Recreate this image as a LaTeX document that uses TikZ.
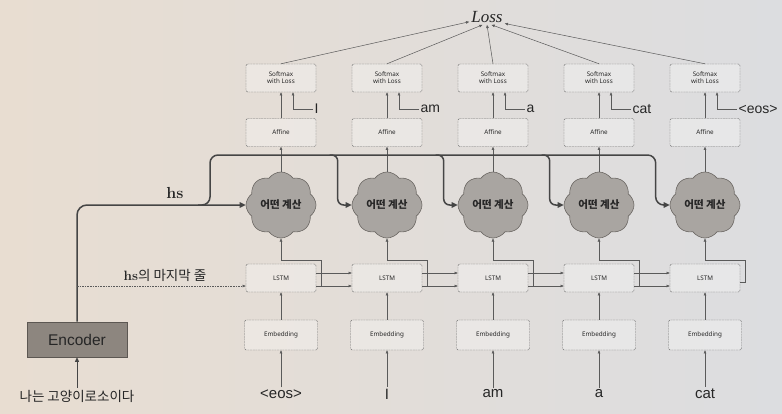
\documentclass[tikz,border=0pt]{standalone}
\usepackage{fontspec}
\newfontfamily\kr{Noto Sans CJK KR}
\newfontfamily\lsans{Liberation Sans}
\newfontfamily\nsans{Noto Sans}
\newfontfamily\lserif{Liberation Serif}
\usetikzlibrary{arrows.meta,shapes.symbols}
\definecolor{bgl}{HTML}{E8DDD1}
\definecolor{bgr}{HTML}{DCDDE0}
\definecolor{boxc}{HTML}{727272}
\definecolor{linec}{HTML}{5A5A5A}
\definecolor{thickc}{HTML}{454545}
\definecolor{cloudf}{HTML}{A9A5A1}
\definecolor{cloudd}{HTML}{6C6864}
\definecolor{encf}{HTML}{8D867F}
\definecolor{encd}{HTML}{5C5752}
\definecolor{txt}{HTML}{262626}
\begin{document}
\begin{tikzpicture}[x=1pt,y=-1pt,
  box/.style={draw=boxc, line width=0.45pt, dash pattern=on 2pt off 0.7pt,
    fill=white, fill opacity=0.3, text opacity=1, rounded corners=1.5pt,
    minimum width=70pt, minimum height=28pt, inner sep=1pt, align=center,
    text=txt, font=\nsans\fontsize{6.3}{7}\selectfont},
  cloudn/.style={cloud, cloud puffs=8, cloud puff arc=110, cloud ignores aspect,
    draw=cloudd, line width=0.6pt, fill=cloudf, minimum width=70pt,
    minimum height=66pt, inner sep=0pt, text=txt,
    font=\kr\bfseries\fontsize{10.5}{13}\selectfont},
  word/.style={text=txt, font=\lsans\fontsize{15}{18}\selectfont, inner sep=2pt},
  lab/.style={text=txt, font=\lsans\fontsize{14}{17}\selectfont, inner sep=1.5pt, anchor=west},
  tarrow/.style={draw=linec, line width=0.5pt, -{Triangle[length=3.2pt,width=2.6pt]}},
  darrow/.style={tarrow, dash pattern=on 1.6pt off 1pt},
  hsline/.style={draw=thickc, line width=1.5pt, -{Triangle[length=6pt,width=5.5pt]}},
]
\useasboundingbox (0,0) rectangle (782,413);
\shade[left color=bgl, right color=bgr] (0,0) rectangle (782,413);

\node[inner sep=2pt, text=txt, font=\lserif\itshape\fontsize{17}{19}\selectfont] (loss) at (487,17) {Loss};

\foreach \i/\o/\w [evaluate=\i as \cx using {281+106*(\i-1)}] in
  {1/I/{<eos>}, 2/am/I, 3/a/am, 4/cat/a, 5/{<eos>}/cat} {
  \node[box] (sm\i) at (\cx,78) {Softmax\\with Loss};
  \node[box] (af\i) at (\cx,132.5) {Affine};
  \node[cloudn] (cl\i) at (\cx,205) {어떤 계산};
  \node[box] (ls\i) at (\cx,278) {LSTM};
  \node[box, minimum width=73pt, minimum height=30pt] (em\i) at (\cx,335) {Embedding};
  \node[word] (in\i) at (\cx,394) {\w};
  \node[lab] (ol\i) at (\cx+32,109) {\o};
}

% encoder
\node[draw=encd, fill=encf, line width=0.6pt, minimum width=100pt, minimum height=35pt,
  text=txt, font=\lsans\fontsize{15.5}{18}\selectfont] (enc) at (77,339.5) {Encoder};
\node[text=txt, font=\kr\fontsize{13.5}{16}\selectfont, inner sep=2pt] (encin) at (77,396) {나는 고양이로소이다};
\draw[draw=thickc, line width=0.9pt, -{Triangle[length=4.5pt,width=4pt]}] (encin) -- (enc);

% vertical connections in each column
\foreach \i in {1,...,5} {
  \draw[tarrow] (in\i) -- (em\i);
  \draw[tarrow] (em\i) -- (ls\i);
  \draw[tarrow] (cl\i) -- (af\i);
  \draw[tarrow] (af\i.north) -- (sm\i.south);
  \draw[tarrow] (ol\i.west) -| ([xshift=12pt]sm\i.south);
}

% softmax to Loss
\foreach \i/\a in {1/195,2/240,3/270,4/300,5/340}
  \draw[tarrow] (sm\i.north) -- (loss.\a);

% LSTM to LSTM
\foreach \i/\j in {1/2,2/3,3/4,4/5} {
  \draw[tarrow] ([yshift=5pt]ls\i.east) -- ([yshift=5pt]ls\j.west);
  \draw[tarrow] ([yshift=-8pt]ls\i.east) -- ([yshift=-8pt]ls\j.west);
}
% LSTM hidden state up to the cloud
\foreach \i in {1,...,4}
  \draw[tarrow] ([xshift=5pt,yshift=-8pt]ls\i.east) |- ([yshift=4pt]ls\i.north) -- (cl\i.south);
\draw[tarrow] ([yshift=-4pt]ls5.east) -- ++(5,0) |- ([yshift=4pt]ls5.north) -- (cl5.south);

% hs: encoder output
\coordinate (top) at (0,155);
\foreach \i in {2,...,5} {
  \coordinate (d\i) at ([xshift=-14pt]cl\i.west);
  \coordinate (t\i) at (d\i |- top);
}
\draw[hsline, rounded corners=10pt] (enc.north) |- (cl1.west);
\draw[hsline, rounded corners=8pt] (198,205) -- (210,205) |- (t5) |- (cl5.west);
\foreach \i in {2,3,4}
  \draw[hsline, rounded corners=6pt] ([xshift=-8pt]t\i) -- (t\i) |- (cl\i.west);
\node[text=txt, font=\bfseries\fontsize{16}{18}\selectfont] (hs) at (175,193) {hs};

% last row of hs
\coordinate (l1) at ([yshift=-8pt]ls1.west);
\draw[darrow] (enc.north |- l1) -- (l1);
\node[text=txt, font=\fontsize{13.5}{16}\selectfont] (hslast) at (165,275) {\textbf{hs}\kr 의 마지막 줄};
\end{tikzpicture}
\end{document}
